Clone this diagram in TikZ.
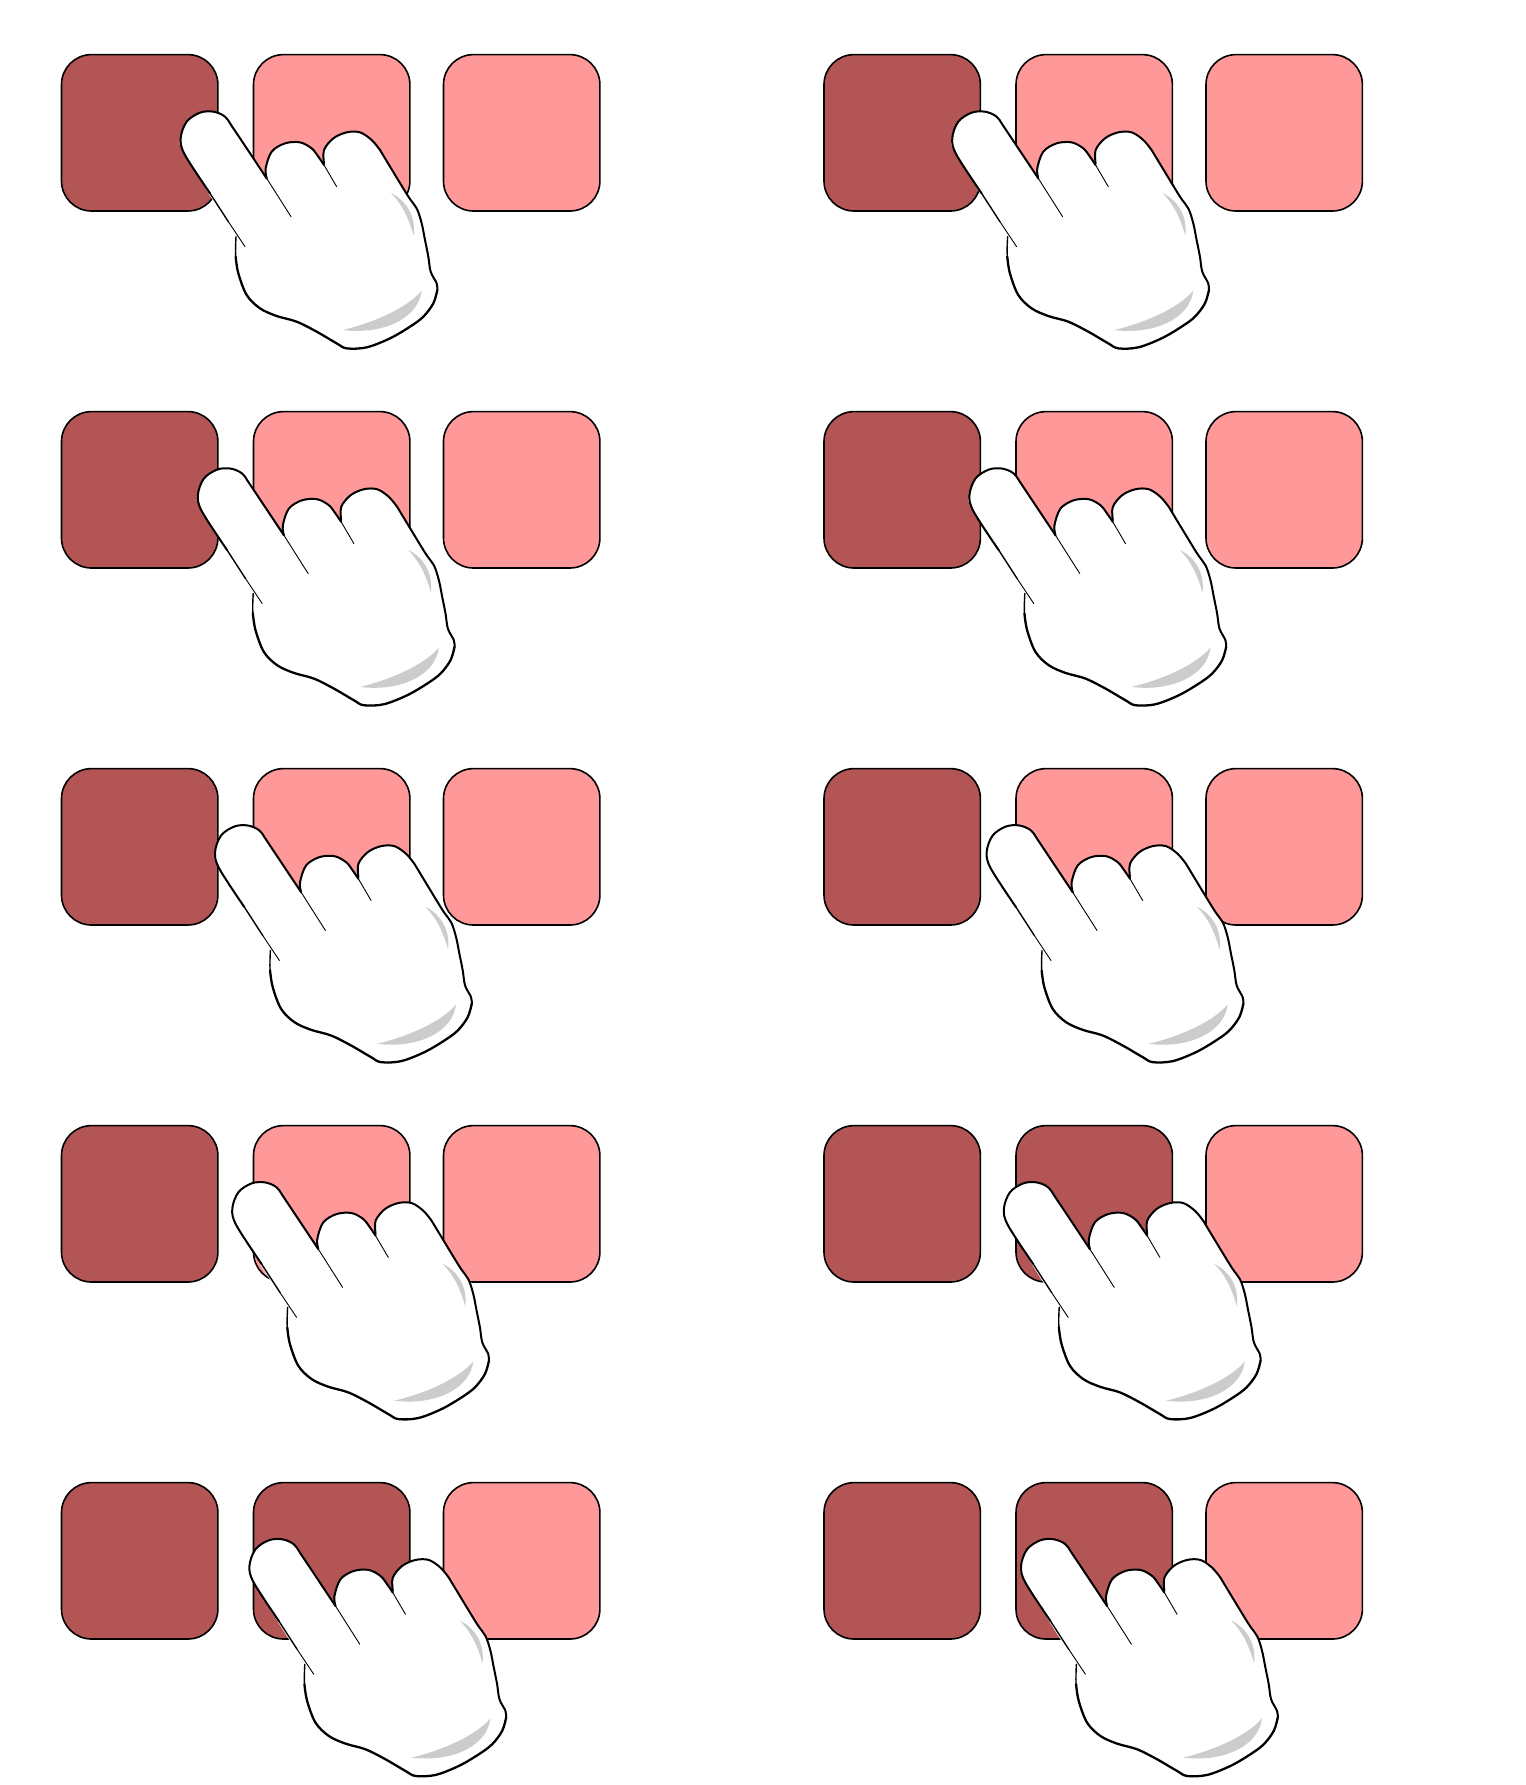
\documentclass[tikz,border=0pt]{standalone}
\definecolor{darkkey}{HTML}{B35555}
\definecolor{lightkey}{HTML}{FF9999}
\definecolor{shade}{HTML}{CCCCCC}
\tikzset{
  keybox/.style={draw=black,line width=0.8pt,rounded corners=15pt,minimum width=78.2pt,minimum height=78.2pt,inner sep=0pt,outer sep=0pt,anchor=north west},
  outerline/.style={draw=black,line width=1pt,line join=round,line cap=round},
  palmline/.style={draw=black,line width=1.15pt,line join=round,line cap=round},
  midline/.style={draw=black,line width=0.7pt,line cap=round},
  innerline/.style={draw=black,line width=0.45pt,line cap=round},
  gloveshade/.style={fill=shade,draw=none},
  tr/.style={smooth,tension=0.55}
}
% hand traced in zoom units: real px = offset + zoom/3
\newcommand{\glove}[2]{%
\begin{scope}[shift={(#1,#2)},x=0.16667pt,y=-0.16667pt]
  \fill[white] plot[tr] coordinates {(198,410)(45,165)(32,115)(50,65)(90,38)(130,35)(165,50)(190,85)}
    -- plot[tr] coordinates {(290,235)(287,205)(305,155)(345,130)(390,127)(425,145)(445,170)}
    -- plot[tr] coordinates {(462,190)(462,150)(490,115)(530,97)(570,97)(605,120)(630,150)}
    -- plot[tr] coordinates {(712,285)(740,325)(755,370)(765,420)(775,470)(782,515)(800,550)(802,570)(790,610)(760,650)(720,680)(660,715)(590,742)(530,745)(500,730)(440,695)(380,665)(320,648)(270,625)(230,585)(205,520)(197,470)(198,410)} -- cycle;
  % palm outline
  \draw[outerline] plot[tr] coordinates {(630,150)(712,285)(740,325)(755,370)(765,420)(775,470)(782,515)(800,550)(802,570)};
  \draw[palmline] plot[tr] coordinates {(802,570)(790,610)(760,650)(720,680)(660,715)(590,742)(530,745)(500,730)(440,695)(380,665)(320,648)(270,625)(230,585)(205,520)(197,470)};
  \draw[midline] (197,470) .. controls (196,450) and (197,430) .. (198,410);
  % index finger
  \draw[outerline] plot[tr] coordinates {(120,280)(45,165)(32,115)(50,65)(90,38)(130,35)(165,50)(190,85)(290,235)};
  \draw[midline] (120,280) -- (175,365);
  \draw[innerline] (175,365) -- (225,440);
  \draw[innerline] (290,235) -- (363,350);
  % middle finger
  \draw[outerline] plot[tr] coordinates {(290,235)(287,205)(305,155)(345,130)(390,127)(425,145)(445,170)(462,195)};
  \draw[innerline] (462,195) -- (500,260);
  % ring finger
  \draw[outerline] plot[tr] coordinates {(462,190)(462,150)(490,115)(530,97)(570,97)(605,120)(630,150)};
  % shading
  \fill[gloveshade] (663,279) .. controls (710,302) and (738,350) .. (731,407) .. controls (715,350) and (695,312) .. (663,279) -- cycle;
  \fill[gloveshade] (755,572) .. controls (745,655) and (640,705) .. (518,690) .. controls (610,668) and (710,625) .. (755,572) -- cycle;
\end{scope}}
\begin{document}
\begin{tikzpicture}[x=0.5pt,y=-0.5pt]
\useasboundingbox (0,0) rectangle (1526,1785);
\foreach \row/\dark in {1/1,2/1,3/1,4/1,5/2}{
  \pgfmathsetmacro{\ty}{54.6+(\row-1)*357}
  \node[keybox,fill=darkkey] (a\row) at (61.5,\ty) {};
  \ifnum\dark=2
    \node[keybox,fill=darkkey] (b\row) at (253.5,\ty) {};
  \else
    \node[keybox,fill=lightkey] (b\row) at (253.5,\ty) {};
  \fi
  \node[keybox,fill=lightkey] (c\row) at (443.5,\ty) {};
}
\foreach \row/\dark in {1/1,2/1,3/1,4/2,5/2}{
  \pgfmathsetmacro{\ty}{54.6+(\row-1)*357}
  \node[keybox,fill=darkkey] (d\row) at (824,\ty) {};
  \ifnum\dark=2
    \node[keybox,fill=darkkey] (e\row) at (1016,\ty) {};
  \else
    \node[keybox,fill=lightkey] (e\row) at (1016,\ty) {};
  \fi
  \node[keybox,fill=lightkey] (f\row) at (1206,\ty) {};
}
\foreach \row in {1,...,5}{
  \pgfmathsetmacro{\hx}{170+(\row-1)*17.2}
  \pgfmathsetmacro{\hy}{100+(\row-1)*356.9}
  \glove{\hx}{\hy}
  \pgfmathsetmacro{\hxb}{\hx+771.6}
  \glove{\hxb}{\hy}
}
\end{tikzpicture}
\end{document}
